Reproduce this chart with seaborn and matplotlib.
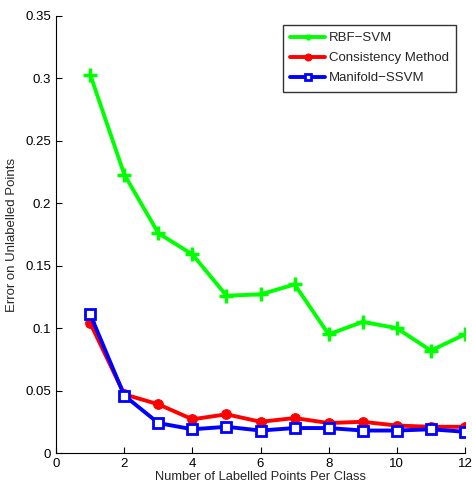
import numpy as np
import pandas as pd
import seaborn as sns
import matplotlib
matplotlib.use('Agg')
import matplotlib.pyplot as plt

# labelled points per class
nLabelled = [1, 2, 3, 4, 5, 6, 7, 8, 9, 10, 11, 12]
# error on unlabelled points
rbfSvm = [0.303, 0.223, 0.176, 0.159, 0.126, 0.127, 0.135, 0.095, 0.105, 0.100, 0.082, 0.095]
consistency = [0.104, 0.047, 0.039, 0.027, 0.031, 0.025, 0.028, 0.024, 0.025, 0.022, 0.021, 0.021]
manifoldSsvm = [0.111, 0.046, 0.024, 0.019, 0.021, 0.018, 0.020, 0.020, 0.018, 0.018, 0.019, 0.017]
methods = ['RBF\u2212SVM', 'Consistency Method', 'Manifold\u2212SSVM']

sns.set_style('ticks')
plt.rcParams['font.family'] = ['Liberation Sans', 'DejaVu Sans']
plt.rcParams['xtick.direction'] = 'in'
plt.rcParams['ytick.direction'] = 'in'

fig = plt.figure(figsize=(4.72, 4.97), dpi=100)
ax = fig.add_axes([0.119, 0.0885, 0.866, 0.8795])

# one call per series so each gets its own matlab-ish marker
# (seaborn defaults marker edges to white, so set them explicitly)
sns.lineplot(x=nLabelled, y=rbfSvm, color='#00ff00', lw=2.8, marker='+',
             markersize=10, markeredgewidth=2.5, markeredgecolor='#00ff00',
             label=methods[0], ax=ax)
sns.lineplot(x=nLabelled, y=consistency, color='#ff0000', lw=2.8, marker='o',
             markersize=7, markeredgecolor='#ff0000', label=methods[1], ax=ax)
sns.lineplot(x=nLabelled, y=manifoldSsvm, color='#0000ff', lw=2.8, marker='s',
             markersize=7, markerfacecolor='white', markeredgecolor='#0000ff',
             markeredgewidth=2, label=methods[2], ax=ax)

ax.set_xlim(0, 12)
ax.set_ylim(0, 0.35)
ax.set_xticks(range(0, 13, 2))
ax.set_yticks(np.arange(0, 0.351, 0.05))
ax.set_yticklabels(['0', '0.05', '0.1', '0.15', '0.2', '0.25', '0.3', '0.35'])
ax.tick_params(labelsize=9.5, length=4, width=0.8, colors='black')
ax.set_xlabel('Number of Labelled Points Per Class', fontsize=9.3, labelpad=1)
ax.set_ylabel('Error on Unlabelled Points', fontsize=9.5, labelpad=5)
sns.despine(ax=ax)
for s in ['left', 'bottom']:
    ax.spines[s].set_linewidth(0.8)
    ax.spines[s].set_color('black')

leg = ax.legend(loc='upper right', bbox_to_anchor=(0.978, 0.98), fontsize=9.5,
                frameon=True, fancybox=False, edgecolor='black',
                handlelength=2.6, borderpad=0.55, labelspacing=0.6,
                handletextpad=0.3, borderaxespad=0)
leg.get_frame().set_linewidth(1)
for h in leg.legend_handles:
    h.set_markersize(5)

fig.savefig('out.png', dpi=100)
